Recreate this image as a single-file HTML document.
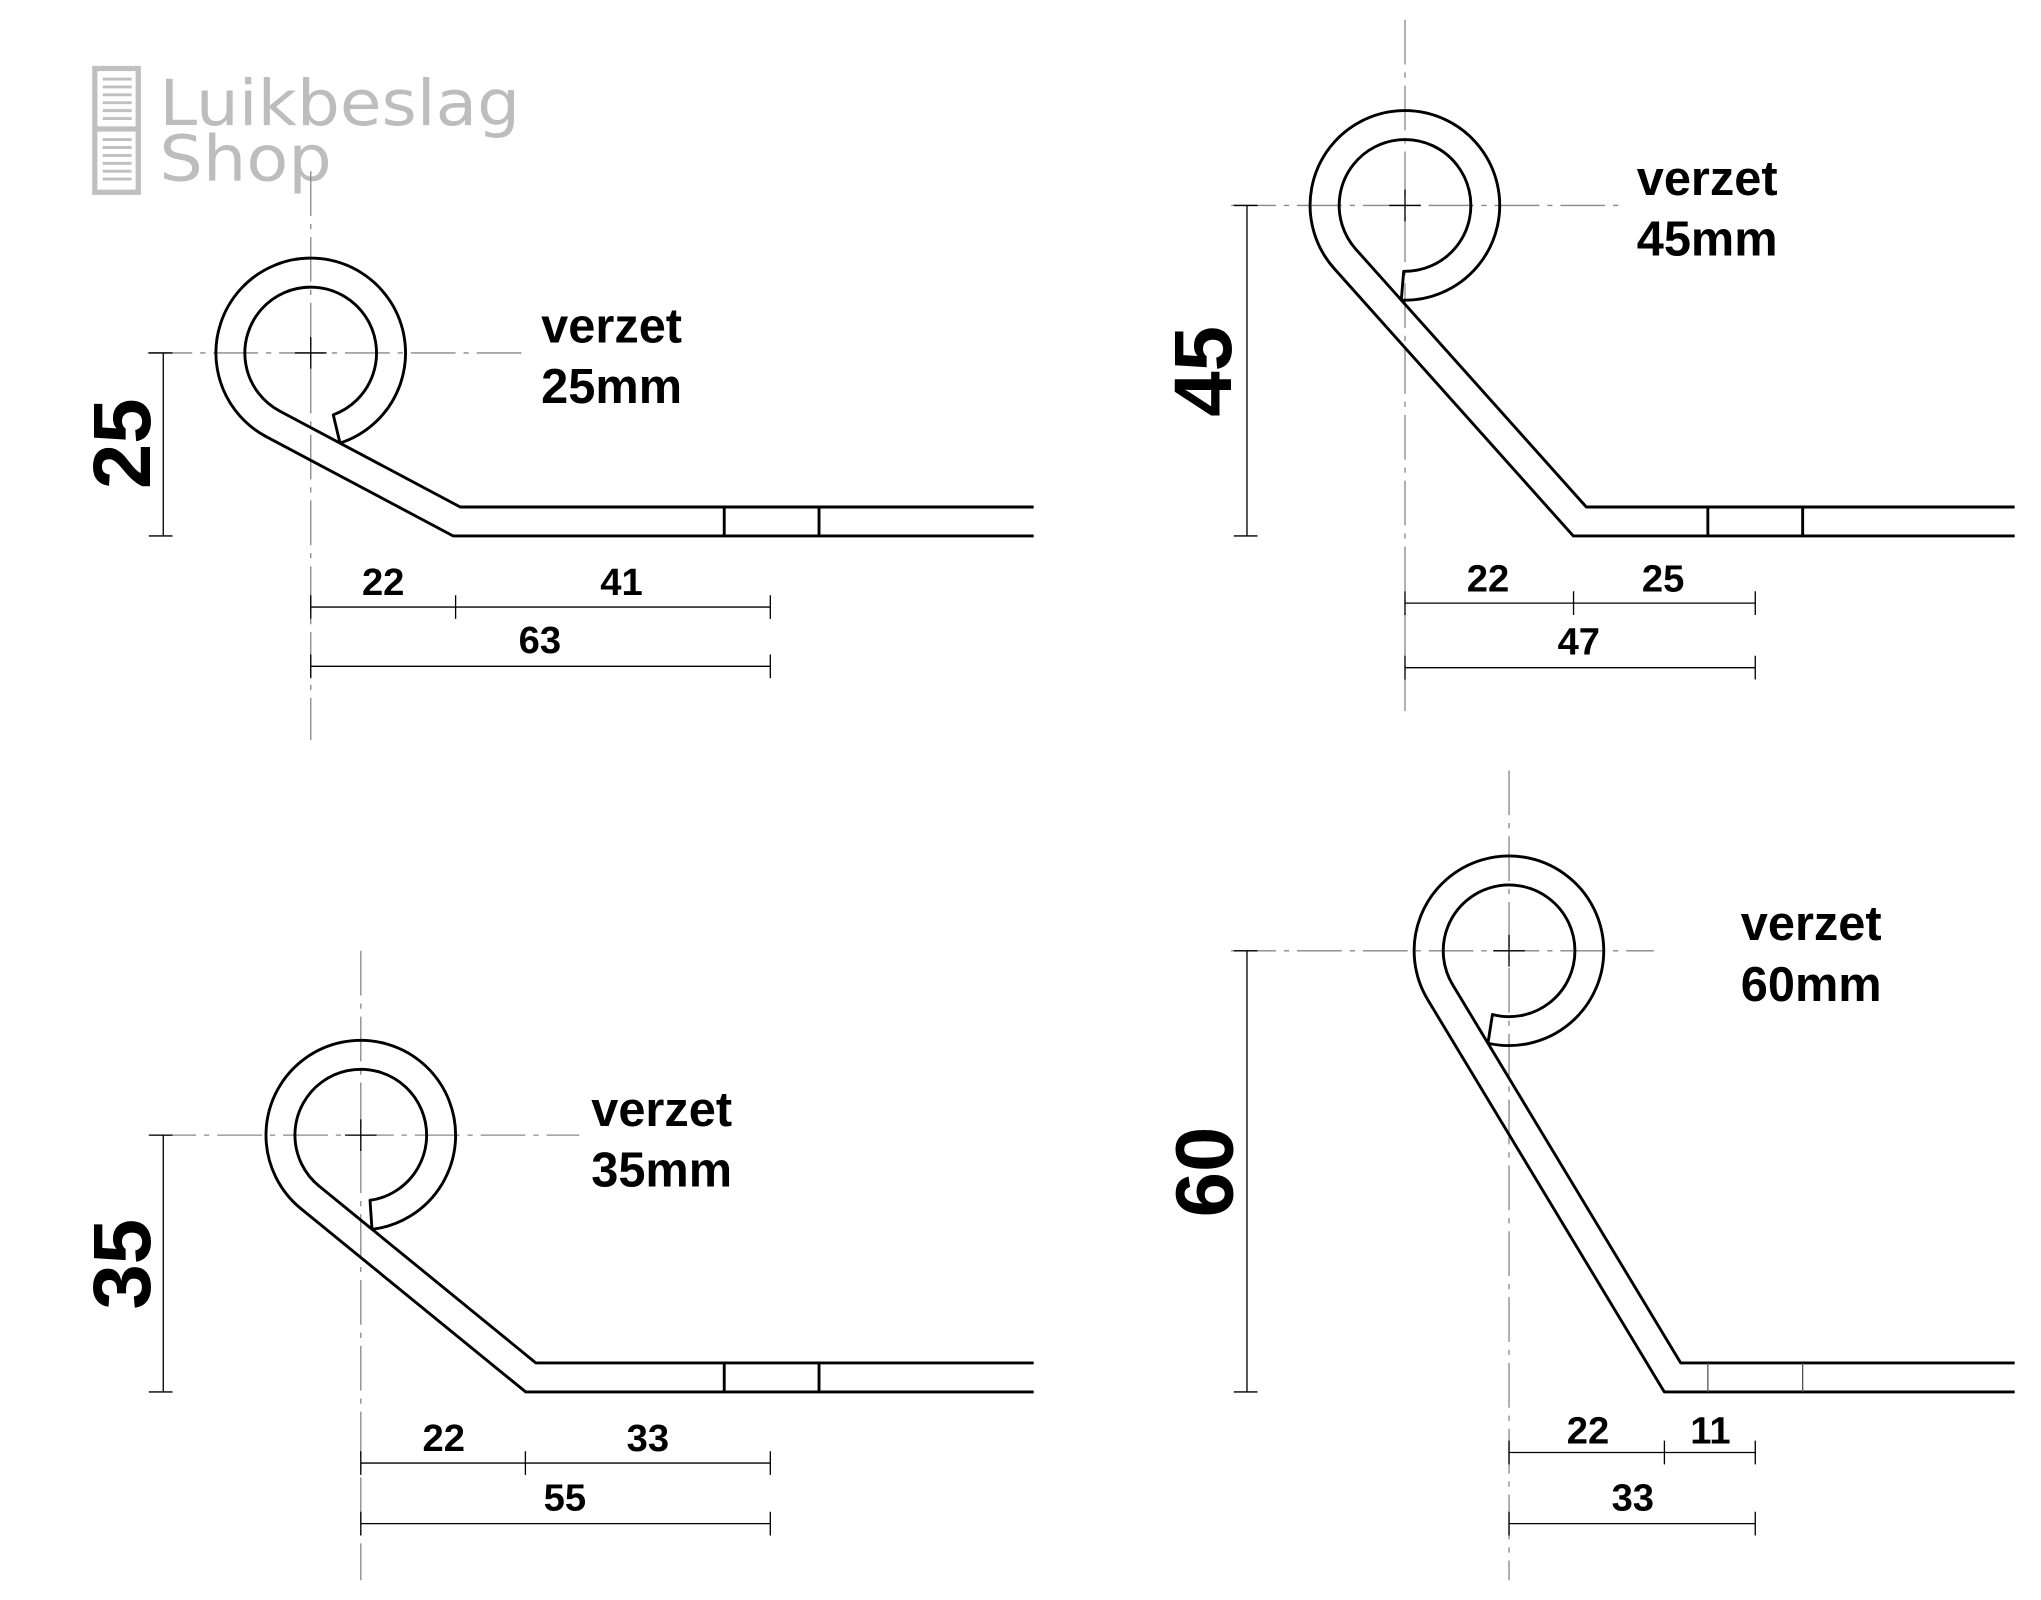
<!DOCTYPE html>
<html><head><meta charset="utf-8"><style>
html,body{margin:0;padding:0;background:#fff;}
svg{display:block;}
.s{fill:none;stroke:#000;stroke-width:2.2;stroke-linejoin:round;}
.d{fill:none;stroke:#000;stroke-width:1;}
.c{fill:none;stroke:#888;stroke-width:1;stroke-dasharray:34 6 4 6;}
.t{font-family:"Liberation Sans",Arial,sans-serif;font-weight:bold;fill:#000;}
.n{font-size:29px;}
.v{font-size:37px;}
.big{font-size:62px;}
.lg{font-family:"DejaVu Sans",sans-serif;font-size:48px;fill:#bdbdbd;}
</style></head><body>
<svg width="2041" height="1600" viewBox="0 0 1550 1215" preserveAspectRatio="none" xmlns="http://www.w3.org/2000/svg">
<rect width="1550" height="1215" fill="#fff"/>
<!-- logo -->
<g fill="none" stroke="#c0c0c0" stroke-width="4">
<rect x="72" y="52" width="33" height="94"/>
<line x1="72" y1="98" x2="105" y2="98"/>
</g>
<g stroke="#c0c0c0" stroke-width="2.2">
<line x1="78" y1="60" x2="100" y2="60"/><line x1="78" y1="66" x2="100" y2="66"/><line x1="78" y1="72" x2="100" y2="72"/><line x1="78" y1="78" x2="100" y2="78"/><line x1="78" y1="84" x2="100" y2="84"/><line x1="78" y1="90" x2="100" y2="90"/>
<line x1="78" y1="106" x2="100" y2="106"/><line x1="78" y1="112" x2="100" y2="112"/><line x1="78" y1="118" x2="100" y2="118"/><line x1="78" y1="124" x2="100" y2="124"/><line x1="78" y1="130" x2="100" y2="130"/><line x1="78" y1="136" x2="100" y2="136"/>
</g>
<text class="lg" x="121" y="95" textLength="274" lengthAdjust="spacingAndGlyphs">Luikbeslag</text>
<text class="lg" x="121" y="137" textLength="131" lengthAdjust="spacingAndGlyphs">Shop</text>

<!-- Diagram 1 -->
<line class="c" x1="236" y1="130" x2="236" y2="562"/>
<line class="c" x1="112" y1="268" x2="400" y2="268"/>
<path class="d" d="M224 268H248M236 256V280"/>
<path class="s" d="M785 407H344.2L202.2 331.6A72 72 0 1 1 258.2 336.5"/>
<path class="s" d="M785 385H349.5L212.5 312.2A50 50 0 1 1 253.1 315L258.2 336.5"/>
<path class="s" d="M550 385V407M622 385V407" stroke-width="1.6"/>
<path class="d" d="M124 268V407M113 268H131M113 407H131"/>
<text class="t big" x="114" y="337" text-anchor="middle" transform="rotate(-90 114 337)">25</text>
<path class="d" d="M236 461H585M236 452V470M346 452V470M585 452V470M236 506H585M236 497V515M585 497V515"/>
<text class="t n" x="291" y="452" text-anchor="middle">22</text>
<text class="t n" x="472" y="452" text-anchor="middle">41</text>
<text class="t n" x="410" y="496" text-anchor="middle">63</text>
<text class="t v" x="411" y="260">verzet</text>
<text class="t v" x="411" y="306">25mm</text>

<!-- Diagram 2 -->
<line class="c" x1="1067" y1="15" x2="1067" y2="540"/>
<line class="c" x1="935" y1="156" x2="1232" y2="156"/>
<path class="d" d="M1055 156H1079M1067 144V168"/>
<path class="s" d="M1530 407H1194.8L1013.3 204A72 72 0 1 1 1064.2 227.9"/>
<path class="s" d="M1530 385H1204.7L1029.7 189.3A50 50 0 1 1 1066 206L1064.2 227.9"/>
<path class="s" d="M1297 385V407M1369 385V407" stroke-width="1.6"/>
<path class="d" d="M947 156V407M937 156H955M937 407H955"/>
<text class="t big" x="935" y="282" text-anchor="middle" transform="rotate(-90 935 282)">45</text>
<path class="d" d="M1067 458H1333M1067 449V467M1195 449V467M1333 449V467M1067 507H1333M1067 498V516M1333 498V516"/>
<text class="t n" x="1130" y="449" text-anchor="middle">22</text>
<text class="t n" x="1263" y="449" text-anchor="middle">25</text>
<text class="t n" x="1199" y="497" text-anchor="middle">47</text>
<text class="t v" x="1243" y="148">verzet</text>
<text class="t v" x="1243" y="194">45mm</text>

<!-- Diagram 3 -->
<line class="c" x1="274" y1="722" x2="274" y2="1200"/>
<line class="c" x1="115" y1="862" x2="440" y2="862"/>
<path class="d" d="M262 862H286M274 850V874"/>
<path class="s" d="M785 1057H399.2L228.5 917.8A72 72 0 1 1 282.5 933.5"/>
<path class="s" d="M785 1035H407L242.4 900.75A50 50 0 1 1 281 911.5L282.5 933.5"/>
<path class="s" d="M550 1035V1057M622 1035V1057" stroke-width="1.6"/>
<path class="d" d="M124 862V1057M113 862H131M113 1057H131"/>
<text class="t big" x="114" y="960" text-anchor="middle" transform="rotate(-90 114 960)">35</text>
<path class="d" d="M274 1111H585M274 1102V1120M399 1102V1120M585 1102V1120M274 1157H585M274 1148V1166M585 1148V1166"/>
<text class="t n" x="337" y="1102" text-anchor="middle">22</text>
<text class="t n" x="492" y="1102" text-anchor="middle">33</text>
<text class="t n" x="429" y="1147" text-anchor="middle">55</text>
<text class="t v" x="449" y="855">verzet</text>
<text class="t v" x="449" y="901">35mm</text>

<!-- Diagram 4 -->
<line class="c" x1="1146" y1="585" x2="1146" y2="1200"/>
<line class="c" x1="935" y1="722" x2="1256" y2="722"/>
<path class="d" d="M1134 722H1158M1146 710V734"/>
<path class="s" d="M1530 1057H1263.9L1084.3 759.2A72 72 0 1 1 1130 792.2"/>
<path class="s" d="M1530 1035H1276.4L1103.2 747.8A50 50 0 1 1 1133.4 770.4L1130 792.2"/>
<path d="M1297 1035V1057M1369 1035V1057" stroke="#555" stroke-width="1" fill="none"/>
<path class="d" d="M947 722V1057M937 722H955M937 1057H955"/>
<text class="t big" x="936" y="890" text-anchor="middle" transform="rotate(-90 936 890)">60</text>
<path class="d" d="M1146 1103H1333M1146 1094V1112M1264 1094V1112M1333 1094V1112M1146 1157H1333M1146 1148V1166M1333 1148V1166"/>
<text class="t n" x="1206" y="1096" text-anchor="middle">22</text>
<text class="t n" x="1299" y="1096" text-anchor="middle">11</text>
<text class="t n" x="1240" y="1147" text-anchor="middle">33</text>
<text class="t v" x="1322" y="714">verzet</text>
<text class="t v" x="1322" y="760">60mm</text>
</svg>
</body></html>
